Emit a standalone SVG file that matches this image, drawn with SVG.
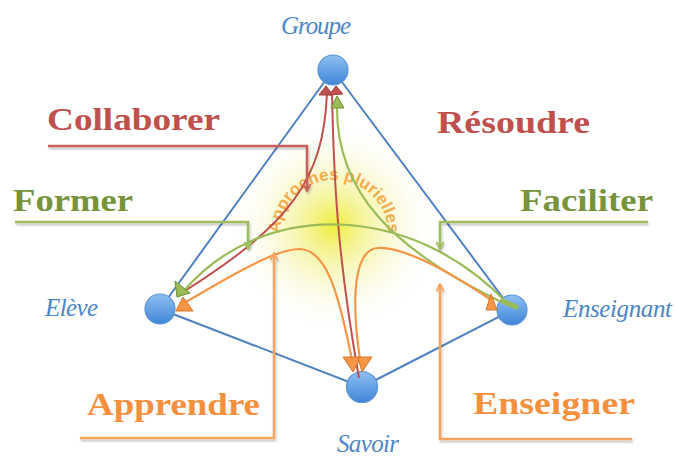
<svg xmlns="http://www.w3.org/2000/svg" width="675" height="458" viewBox="0 0 675 458">
<defs>
<style>
.lab{font-family:"Liberation Serif","Times New Roman",serif;font-weight:bold;font-size:32px}
.node-t{font-family:"Liberation Serif","Times New Roman",serif;font-style:italic;font-size:25px;fill:#4d86c6}
.red{fill:#c0504d}.green{fill:#77933c}.orange{fill:#f5903f}
.edge{stroke:#4f81c0;stroke-width:2;fill:none}
.lr{stroke:#c9605c;stroke-width:2.5;fill:none}
.lg{stroke:#9dbd5e;stroke-width:2.5;fill:none}
.lo{stroke:#f6a45e;stroke-width:2.5;fill:none}
.cr{stroke:#c0504d;stroke-width:2;fill:none}
.cg{stroke:#9bbb59;stroke-width:2.2;fill:none}
.co{stroke:#f79646;stroke-width:2.2;fill:none}
.tr{fill:#c0504d;stroke:#a23f3c;stroke-width:1}
.tg{fill:#9bbb59;stroke:#6f8f35;stroke-width:1}
.to{fill:#f79646;stroke:#d9742a;stroke-width:1}
.circ{fill:url(#cg);stroke:#5b93d4;stroke-width:1.2}
</style>
<radialGradient id="glow" cx="334" cy="226" r="105" gradientUnits="userSpaceOnUse">
<stop offset="0" stop-color="#eeee30" stop-opacity="0.95"/>
<stop offset="0.3" stop-color="#f1ef70" stop-opacity="0.65"/>
<stop offset="0.65" stop-color="#f6f5b8" stop-opacity="0.35"/>
<stop offset="1" stop-color="#ffffff" stop-opacity="0"/>
</radialGradient>
<linearGradient id="cg" x1="0" y1="0" x2="0" y2="1">
<stop offset="0" stop-color="#8fc0f4"/>
<stop offset="1" stop-color="#3f86d6"/>
</linearGradient>
<filter id="sh" x="-10%" y="-10%" width="120%" height="130%">
<feDropShadow dx="1" dy="2" stdDeviation="1" flood-color="#000" flood-opacity="0.25"/>
</filter>
<marker id="mr" viewBox="0 0 10 10" refX="9" refY="5" markerWidth="9" markerHeight="9" markerUnits="userSpaceOnUse" orient="auto"><path d="M1,1 L9,5 L1,9" fill="none" stroke="#c9605c" stroke-width="2"/></marker>
<marker id="mg" viewBox="0 0 10 10" refX="9" refY="5" markerWidth="9" markerHeight="9" markerUnits="userSpaceOnUse" orient="auto"><path d="M1,1 L9,5 L1,9" fill="none" stroke="#9dbd5e" stroke-width="2"/></marker>
<marker id="mo" viewBox="0 0 10 10" refX="9" refY="5" markerWidth="9" markerHeight="9" markerUnits="userSpaceOnUse" orient="auto"><path d="M1,1 L9,5 L1,9" fill="none" stroke="#f6a45e" stroke-width="2"/></marker>
<path id="arc" d="M283.3,252.5 A54,54 0 1,1 384.7,252.5"/>
</defs>
<rect width="675" height="458" fill="#ffffff"/>
<circle cx="334" cy="226" r="105" fill="url(#glow)"/>

<g id="edges">
<line class="edge" x1="333" y1="70" x2="160" y2="309"/>
<line class="edge" x1="333" y1="70" x2="512" y2="310"/>
<line class="edge" x1="160" y1="309" x2="362" y2="387"/>
<line class="edge" x1="512" y1="310" x2="362" y2="387"/>
</g>

<g id="node-groupe"><circle class="circ" cx="333" cy="70" r="15"/><text class="node-t" x="281" y="34" textLength="70">Groupe</text></g>
<g id="node-eleve"><circle class="circ" cx="160" cy="309" r="15"/><text class="node-t" x="45" y="316" textLength="53">Elève</text></g>
<g id="node-enseignant"><circle class="circ" cx="512" cy="310" r="15"/><text class="node-t" x="563" y="317" textLength="109">Enseignant</text></g>
<g id="node-savoir"><circle class="circ" cx="362" cy="387" r="15.5"/><text class="node-t" x="337" y="452" textLength="62">Savoir</text></g>

<text font-family="'Liberation Sans',Arial,sans-serif" font-size="17" font-weight="bold" fill="#f4a23c" fill-opacity="0.9"><textPath href="#arc" startOffset="50%" text-anchor="middle">Approches plurielles</textPath></text>

<g id="flows">
<path class="cr" d="M327,92 C324,180 290,225 180,294"/>
<path class="cr" d="M332,92 C334,200 340,270 359,378"/>
<path class="cg" d="M337,106 C336,190 390,250 510,306"/>
<path class="cg" d="M183,292 C260,200 410,200 508,304"/>
<path class="co" d="M186,302 C250,264 280,249 300,249 C326,250 338,290 352,360"/>
<path class="co" d="M491,300 C440,265 400,247 378,248 C356,249 350,290 360,360"/>
<line x1="503" y1="301" x2="516" y2="307" stroke="#9bbb59" stroke-width="5" stroke-linecap="round"/>
<polygon class="tr" points="326,86 319,95 333,95"/>
<polygon class="tr" points="336,86 329,95 343,94"/>
<polygon class="tg" points="337,96 331,108 344,108"/>
<polygon class="tg" points="175,281 177,297 190,293"/>
<polygon class="to" points="183,297 176,311 193,311"/>
<polygon class="to" points="491,294 486,310 497,310"/>
<polygon class="to" points="343,357 361,357 353,372"/>
<polygon class="to" points="358,357 372,357 362,372"/>
</g>

<g id="label-collaborer"><text class="lab red" x="47" y="130" textLength="173" lengthAdjust="spacingAndGlyphs">Collaborer</text><polyline class="lr" filter="url(#sh)" points="48,146 307,146 307,191" marker-end="url(#mr)"/></g>
<g id="label-resoudre"><text class="lab red" x="437" y="133" textLength="153" lengthAdjust="spacingAndGlyphs">Résoudre</text><polyline class="lr" filter="url(#sh)" points="583,146 336,146" marker-end="url(#mr)"/></g>
<g id="label-former"><text class="lab green" x="13" y="211" textLength="120" lengthAdjust="spacingAndGlyphs">Former</text><polyline class="lg" filter="url(#sh)" points="15,222 248,222 248,249" marker-end="url(#mg)"/></g>
<g id="label-faciliter"><text class="lab green" x="520" y="211" textLength="133" lengthAdjust="spacingAndGlyphs">Faciliter</text><polyline class="lg" filter="url(#sh)" points="648,222 440,222 440,249" marker-end="url(#mg)"/></g>
<g id="label-apprendre"><text class="lab orange" x="87" y="415" textLength="173" lengthAdjust="spacingAndGlyphs">Apprendre</text><polyline class="lo" filter="url(#sh)" points="80,438 274,438 274,253" marker-end="url(#mo)"/></g>
<g id="label-enseigner"><text class="lab orange" x="473" y="414" textLength="162" lengthAdjust="spacingAndGlyphs">Enseigner</text><polyline class="lo" filter="url(#sh)" points="632,439 440,439 440,284" marker-end="url(#mo)"/></g>
</svg>
